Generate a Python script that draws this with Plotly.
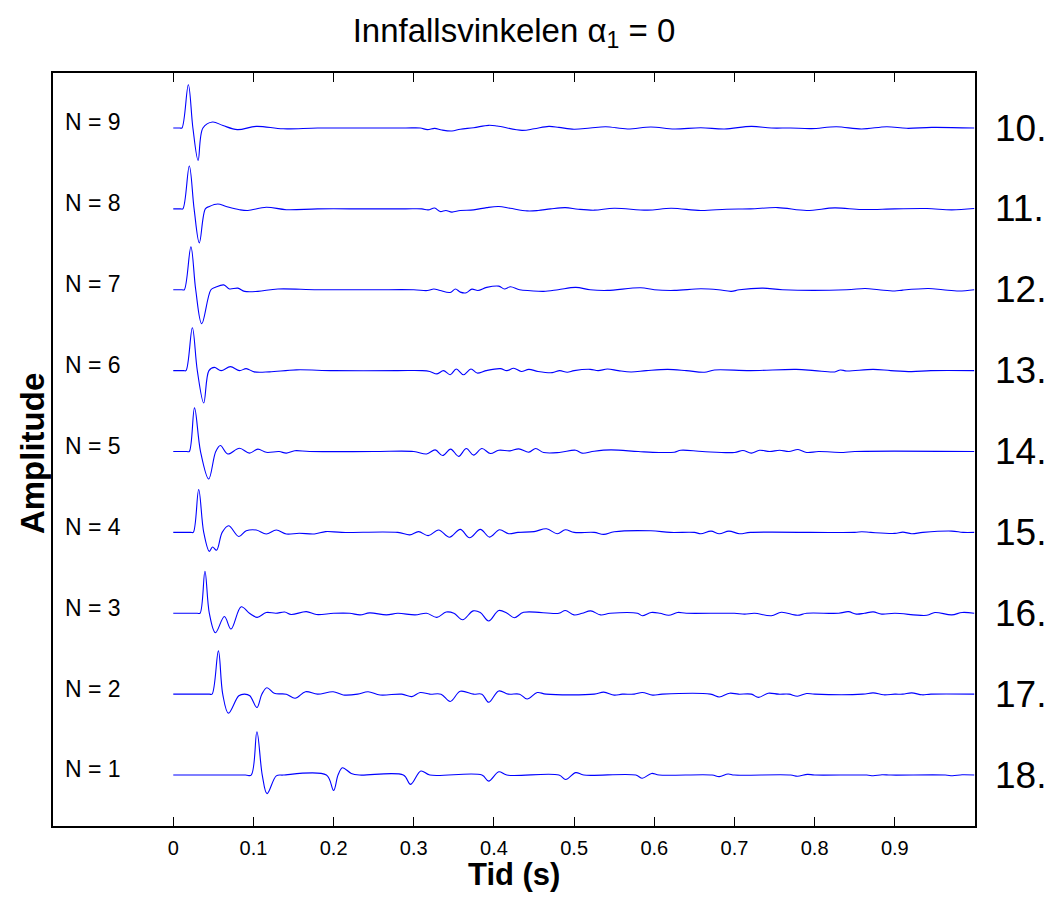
import plotly.graph_objects as go

# trace numbers (bottom to top) and the numbers written to the right of each trace
trace_n = [1, 2, 3, 4, 5, 6, 7, 8, 9]
right_labels = ["18.", "17.", "16.", "15.", "14.", "13.", "12.", "11.", "10."]

# time (s) and amplitude (relative to the trace baseline)
t_n1 = [0, 0.09, 0.0972, 0.1043, 0.111, 0.117, 0.1285, 0.137, 0.191, 0.2,
        0.2055, 0.211, 0.222, 0.232, 0.287, 0.296, 0.3088, 0.32, 0.385, 0.3934,
        0.406, 0.416, 0.481, 0.4894, 0.502, 0.512, 0.577, 0.585, 0.5966, 0.606,
        0.672, 0.681, 0.692, 0.70, 0.77, 0.7785, 0.791, 0.80, 0.865, 0.873,
        0.884, 0.895, 0.963, 0.972, 0.984, 0.999]
a_n1 = [0, 0, 0, 0.535, 0, -0.23, -0.01, 0, 0, -0.19,
        0, 0.09, 0.02, 0, 0, -0.115, 0.05, 0, 0, -0.075,
        0.04, 0, 0, -0.055, 0.03, 0, 0, -0.04, 0.02, 0,
        0, -0.02, 0.012, 0, 0, -0.015, 0.008, 0, 0, -0.008,
        0.004, 0, 0, -0.008, 0.004, 0]

t_n2 = [0, 0.045, 0.0484, 0.0563, 0.0617, 0.0688, 0.0818, 0.089, 0.0955, 0.1043,
        0.1105, 0.1168, 0.126, 0.141, 0.152, 0.165, 0.18, 0.1994, 0.212, 0.23,
        0.243, 0.258, 0.285, 0.2975, 0.308, 0.32, 0.334, 0.3454, 0.358, 0.3746,
        0.385, 0.3934, 0.406, 0.418, 0.432, 0.4414, 0.454, 0.465, 0.525, 0.537,
        0.55, 0.56, 0.575, 0.585, 0.598, 0.61, 0.67, 0.681, 0.694, 0.705,
        0.721, 0.73, 0.742, 0.755, 0.768, 0.7785, 0.79, 0.80, 0.86, 0.873,
        0.886, 0.90, 0.91, 0.921, 0.934, 0.945, 0.999]
a_n2 = [0, 0, 0, 0.535, 0, -0.235, -0.02, 0, -0.02, -0.165,
        0, 0.08, 0.01, 0, -0.05, 0.03, 0, 0.03, -0.01, 0,
        0.03, -0.01, 0, -0.03, 0.02, 0, 0, -0.09, 0.035, 0,
        0, -0.1, 0.04, 0, 0, -0.06, 0.02, 0, 0, 0.025,
        -0.012, 0, 0, 0.02, -0.012, 0, 0, -0.035, 0.012, 0,
        0, -0.04, 0.012, 0, 0, -0.025, 0.008, 0, 0, 0.016,
        -0.008, 0, 0, 0.016, -0.008, 0, 0]

t_n3 = [0, 0.030, 0.0334, 0.0395, 0.045, 0.0526, 0.0638, 0.072, 0.0847, 0.095,
        0.1047, 0.116, 0.128, 0.139, 0.147, 0.166, 0.1786, 0.20, 0.22, 0.233,
        0.245, 0.266, 0.28, 0.3016, 0.316, 0.3288, 0.3404, 0.35, 0.361, 0.374,
        0.383, 0.3934, 0.406, 0.4164, 0.4255, 0.437, 0.481, 0.489, 0.4998, 0.51,
        0.5207, 0.533, 0.545, 0.579, 0.585, 0.596, 0.607, 0.618, 0.629, 0.64,
        0.70, 0.7126, 0.725, 0.746, 0.7585, 0.7785, 0.79, 0.83, 0.842, 0.852,
        0.862, 0.873, 0.8836, 0.90, 0.94, 0.95, 0.971, 0.984, 0.999]
a_n3 = [0, 0, 0, 0.52, 0, -0.24, -0.04, -0.195, 0.08, 0,
        -0.05, 0.01, 0, 0.015, -0.015, 0.02, -0.015, 0, 0, -0.02,
        0.005, -0.02, 0, -0.02, 0, -0.05, 0.015, 0, -0.08, 0.03,
        0.01, -0.095, 0.035, 0, -0.055, 0.012, 0, 0.035, -0.02, 0,
        0.03, -0.02, 0, 0, -0.03, 0.01, 0, -0.025, 0.01, 0,
        0, -0.01, 0, -0.03, 0.012, -0.025, 0, 0, 0.02, -0.01,
        0, 0.017, -0.01, 0, -0.025, 0.01, -0.02, 0.01, 0]

t_n4 = [0, 0.022, 0.025, 0.0317, 0.038, 0.045, 0.049, 0.054, 0.061, 0.069,
        0.0818, 0.091, 0.1035, 0.116, 0.1285, 0.141, 0.157, 0.176, 0.19, 0.21,
        0.28, 0.295, 0.306, 0.318, 0.331, 0.3446, 0.358, 0.3696, 0.383, 0.3946,
        0.407, 0.4184, 0.43, 0.45, 0.4656, 0.479, 0.489, 0.50, 0.525, 0.537,
        0.55, 0.5957, 0.62, 0.65, 0.658, 0.6708, 0.681, 0.693, 0.7063, 0.72,
        0.85, 0.8587, 0.87, 0.90, 0.91, 0.921, 0.935, 0.971, 0.985, 0.999]
a_n4 = [0, 0, 0, 0.53, 0, -0.235, -0.18, -0.22, 0, 0.083,
        -0.05, 0.02, 0.03, -0.02, 0.03, -0.02, -0.01, -0.02, 0.01, 0,
        0, -0.03, 0.01, -0.04, 0.03, -0.06, 0.037, -0.066, 0.037, -0.058,
        0.033, -0.016, 0, 0.01, 0.045, -0.016, 0.033, 0, 0, -0.025,
        0.008, 0.02, 0, 0, -0.016, 0.016, -0.016, 0.016, -0.016, 0,
        0, 0.008, 0, -0.012, 0.004, -0.016, 0, 0.016, 0, 0]

t_n5 = [0, 0.017, 0.020, 0.0265, 0.034, 0.0442, 0.053, 0.0588, 0.068, 0.0826,
        0.095, 0.1055, 0.116, 0.132, 0.141, 0.1515, 0.17, 0.25, 0.30, 0.316,
        0.3267, 0.336, 0.346, 0.356, 0.3655, 0.3746, 0.385, 0.3955, 0.406, 0.42,
        0.431, 0.4435, 0.452, 0.462, 0.4815, 0.502, 0.51, 0.525, 0.5457, 0.58,
        0.606, 0.625, 0.633, 0.66, 0.7, 0.7105, 0.721, 0.7313, 0.744, 0.7563,
        0.768, 0.7793, 0.79, 0.805, 0.8357, 0.85, 0.999]
a_n5 = [0, 0, 0, 0.54, 0, -0.34, 0, 0.074, -0.03, 0.04,
        -0.02, 0.03, -0.01, 0, -0.02, 0.01, 0, 0, 0, -0.03,
        0.02, -0.05, 0.03, -0.06, 0.037, -0.045, 0.037, -0.025, 0.016, 0.008,
        0.033, -0.008, 0.037, -0.012, -0.012, 0.016, -0.02, 0.004, 0.02, 0,
        -0.012, -0.008, 0.016, 0, -0.012, 0.012, -0.02, 0.016, 0, 0.016,
        0, 0.025, -0.012, 0, -0.012, 0, 0]

t_n6 = [0, 0.013, 0.0159, 0.0238, 0.030, 0.038, 0.0445, 0.0513, 0.0597, 0.0713,
        0.0826, 0.091, 0.101, 0.12, 0.1535, 0.20, 0.28, 0.31, 0.320, 0.329,
        0.337, 0.3454, 0.353, 0.362, 0.3713, 0.379, 0.39, 0.408, 0.416, 0.4247,
        0.434, 0.4435, 0.455, 0.4727, 0.482, 0.4914, 0.50, 0.52, 0.53, 0.5415,
        0.555, 0.571, 0.59, 0.6166, 0.64, 0.6625, 0.675, 0.72, 0.777, 0.80,
        0.825, 0.832, 0.84, 0.873, 0.895, 0.921, 0.945, 0.999]
a_n6 = [0, 0, 0, 0.53, 0, -0.40, 0, 0.04, 0, 0.05,
        0, 0.025, -0.015, -0.015, 0.01, 0, 0, 0, -0.01, -0.04,
        0.0, -0.05, 0.02, -0.05, 0.02, -0.03, 0.0, 0.025, 0, 0.03,
        -0.01, 0.016, -0.01, -0.025, 0, -0.02, 0, 0.016, 0, 0.02,
        0, -0.016, 0, 0.016, 0, -0.02, 0.008, 0, 0.016, 0,
        -0.016, 0.008, -0.004, 0.016, 0, -0.012, 0, 0]

t_n7 = [0, 0.011, 0.0138, 0.022, 0.028, 0.0355, 0.047, 0.0526, 0.063, 0.070,
        0.0805, 0.089, 0.1055, 0.1305, 0.18, 0.25, 0.30, 0.317, 0.325, 0.333,
        0.3454, 0.352, 0.358, 0.3655, 0.3725, 0.38, 0.391, 0.406, 0.413, 0.4205,
        0.432, 0.4456, 0.462, 0.48, 0.502, 0.52, 0.5415, 0.583, 0.60, 0.625,
        0.658, 0.68, 0.696, 0.706, 0.7355, 0.76, 0.84, 0.863, 0.88, 0.90,
        0.91, 0.942, 0.96, 0.98, 0.999]
a_n7 = [0, 0, 0, 0.53, 0, -0.42, 0, 0.03, 0.06, 0.01,
        0.02, -0.02, -0.02, 0.01, 0, 0, 0, -0.01, 0.01, -0.01,
        -0.033, 0.01, -0.029, -0.037, 0.008, -0.01, 0.029, 0.045, 0.01, 0.037,
        0, -0.012, -0.02, 0, 0.029, 0, -0.008, 0.025, 0, -0.008,
        0.012, 0, -0.02, 0, 0.02, 0, 0, 0.016, 0, -0.016,
        -0.004, 0.016, 0, -0.016, 0]

t_n8 = [0, 0.009, 0.012, 0.020, 0.026, 0.0325, 0.040, 0.045, 0.0555, 0.066,
        0.0826, 0.093, 0.116, 0.141, 0.18, 0.24, 0.29, 0.31, 0.318, 0.326,
        0.333, 0.34, 0.3475, 0.358, 0.3746, 0.391, 0.406, 0.42, 0.4414, 0.455,
        0.4706, 0.489, 0.505, 0.525, 0.55, 0.5916, 0.621, 0.658, 0.69, 0.72,
        0.754, 0.79, 0.825, 0.8586, 0.90, 0.94, 0.971, 0.999]
a_n8 = [0, 0, 0, 0.53, 0, -0.42, 0, 0.03, 0.06, 0.03,
        -0.01, -0.02, 0.02, -0.01, 0, 0, 0, 0, -0.012, 0.01,
        -0.033, -0.02, -0.04, -0.02, -0.012, 0.016, 0.029, 0.008, -0.025, -0.02,
        0, 0.016, -0.004, -0.016, 0.008, -0.016, 0.008, -0.02, -0.004, 0,
        0.016, -0.02, 0.012, -0.008, 0, 0.004, -0.012, 0.004]

t_n9 = [0, 0.008, 0.0108, 0.0188, 0.0245, 0.031, 0.037, 0.049, 0.062, 0.080,
        0.1035, 0.137, 0.18, 0.24, 0.29, 0.308, 0.317, 0.326, 0.335, 0.3475,
        0.358, 0.3746, 0.3934, 0.4038, 0.435, 0.45, 0.4685, 0.481, 0.4998, 0.52,
        0.5394, 0.5665, 0.5957, 0.625, 0.658, 0.6875, 0.721, 0.746, 0.77, 0.796,
        0.827, 0.8586, 0.89, 0.915, 0.946, 0.999]
a_n9 = [0, 0, 0, 0.535, 0, -0.40, 0, 0.074, 0.03, -0.02,
        0.02, -0.01, 0, 0, 0, 0, -0.02, -0.005, -0.025, -0.037,
        -0.015, 0.004, 0.033, 0.025, -0.029, -0.01, 0.02, 0.008, -0.016, 0,
        0.016, -0.012, 0.012, -0.012, 0.004, -0.012, 0.02, 0, 0, -0.008,
        0.016, -0.012, 0.016, -0.004, 0.008, 0]

times = [t_n1, t_n2, t_n3, t_n4, t_n5, t_n6, t_n7, t_n8, t_n9]
amps = [a_n1, a_n2, a_n3, a_n4, a_n5, a_n6, a_n7, a_n8, a_n9]

x_ticks = [0, 0.1, 0.2, 0.3, 0.4, 0.5, 0.6, 0.7, 0.8, 0.9]
x_ticktext = ["0", "0.1", "0.2", "0.3", "0.4", "0.5", "0.6", "0.7", "0.8", "0.9"]

FONT = "Liberation Sans, Arial, sans-serif"

# the page has an 8px body margin, so the figure is 16px smaller than the window
W, H = 1038, 886

fig = go.Figure()
for n, t, a in zip(trace_n, times, amps):
    assert len(t) == len(a), n
    fig.add_trace(go.Scatter(
        x=t, y=[n + v for v in a], mode="lines",
        line=dict(color="#0000ff", width=1.1, shape="spline", smoothing=1),
        hoverinfo="skip", showlegend=False,
    ))

anns = []
for n, lab in zip(trace_n, right_labels):
    # "N = k" on the left inside the box
    anns.append(dict(x=0.0108, xref="paper", y=n + 0.07, yref="y", text="N = %d" % n,
                     showarrow=False, xanchor="left", yanchor="middle",
                     font=dict(family=FONT, size=23, color="black")))
    # big number right of the box
    anns.append(dict(x=1.0195, xref="paper", y=n, yref="y", text=lab,
                     showarrow=False, xanchor="left", yanchor="middle",
                     font=dict(family=FONT, size=37, color="black")))

anns.append(dict(x=-0.023, xref="paper", y=0.495, yref="paper", text="<b>Amplitude</b>",
                 textangle=-90, showarrow=False, xanchor="center", yanchor="middle",
                 font=dict(family=FONT, size=33, color="black")))
anns.append(dict(x=0.5, xref="paper", y=-0.065, yref="paper", text="<b>Tid (s)</b>",
                 showarrow=False, xanchor="center", yanchor="middle",
                 font=dict(family=FONT, size=31, color="black")))

fig.update_layout(
    width=W, height=H,
    margin=dict(l=45, r=71, t=65, b=68),
    paper_bgcolor="white", plot_bgcolor="white",
    title=dict(text="Innfallsvinkelen α<sub>1</sub> = 0", x=0.5, xref="paper",
               y=1 - 22 / H, yanchor="middle", xanchor="center",
               font=dict(family=FONT, size=33, color="black")),
    annotations=anns,
    font=dict(family=FONT, color="black"),
)
fig.update_xaxes(
    range=[-0.15, 1.0], tickvals=x_ticks, ticktext=x_ticktext,
    ticks="inside", ticklen=9, tickcolor="black", tickwidth=1,
    showline=True, linecolor="black", linewidth=1.5, mirror="ticks",
    showgrid=False, zeroline=False, tickfont=dict(family=FONT, size=20),
    ticklabelstandoff=3,
)
fig.update_yaxes(
    range=[0.37, 9.68], showticklabels=False, ticks="",
    showline=True, linecolor="black", linewidth=1.5, mirror=True,
    showgrid=False, zeroline=False,
)

fig.write_html("out.html")
